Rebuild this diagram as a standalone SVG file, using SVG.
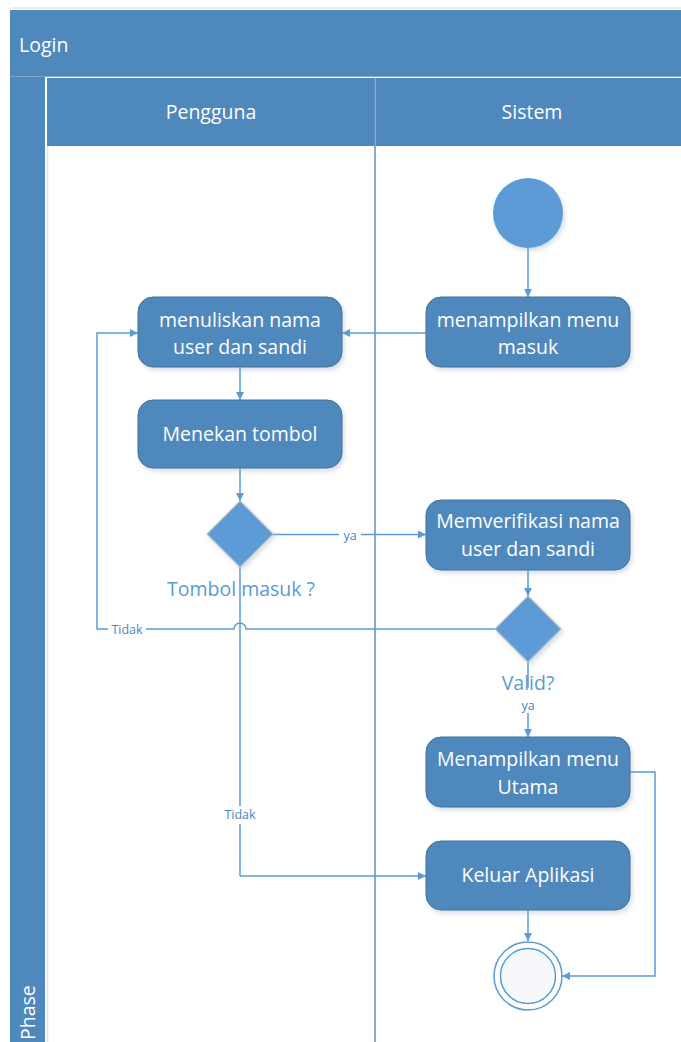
<svg xmlns="http://www.w3.org/2000/svg" width="681" height="1042" viewBox="0 0 681 1042">
  <defs>
    <style>
      .band { fill: #4f88bc; }
      .act { fill: #4f88bc; stroke: #41719c; stroke-width: 1; }
      .dec { fill: #5b9bd5; stroke: #b8bcc2; stroke-width: 1.2; }
      .lbl { font-family: "Open Sans", Lato, sans-serif; font-size: 19.5px; fill: #ffffff; text-anchor: middle; }
      .hdr { font-family: "Open Sans", Lato, sans-serif; font-size: 19.5px; fill: #ffffff; }
      .q { font-family: "Open Sans", Lato, sans-serif; font-size: 19.5px; fill: #5b9bd5; text-anchor: middle; }
      .small { font-family: "Open Sans", Lato, sans-serif; font-size: 12.5px; fill: #4a86c5; text-anchor: middle; }
      .wire { fill: none; stroke: #5b9bd5; stroke-width: 1.5; }
      .arrow { fill: none; stroke: #5b9bd5; stroke-width: 1.5; marker-end: url(#head); }
    </style>
    <marker id="head" viewBox="0 0 10 10" refX="10" refY="5" markerWidth="8" markerHeight="8" markerUnits="userSpaceOnUse" orient="auto">
      <path d="M0,0 L10,5 L0,10 z" fill="#5b9bd5"/>
    </marker>
    <filter id="shadow" x="-10%" y="-10%" width="130%" height="140%">
      <feDropShadow dx="2" dy="3" stdDeviation="2" flood-color="#8aa6c4" flood-opacity="0.35"/>
    </filter>
  </defs>

  <rect width="681" height="1042" fill="#ffffff"/>

  <!-- pool frame -->
  <g id="pool">
    <line x1="10" y1="8" x2="681" y2="8" stroke="#d5dbe2" stroke-width="1"/>
    <rect class="band" x="10" y="10" width="671" height="66"/>
    <text class="hdr" x="19" y="52">Login</text>
    <rect class="band" x="10" y="77" width="35" height="965"/>
    <line x1="10" y1="76.5" x2="681" y2="76.5" stroke="#7ea5cb" stroke-width="1"/>
    <text class="hdr" transform="translate(35 1040) rotate(-90)">Phase</text>
  </g>

  <!-- lanes -->
  <g id="lane-pengguna">
    <rect x="47" y="146" width="328" height="896" fill="#ffffff"/>
    <line x1="47.5" y1="146" x2="47.5" y2="1042" stroke="#e3e9f0" stroke-width="2"/>
    <rect class="band" x="47" y="78" width="328" height="68"/>
    <text class="hdr" x="211" y="119" text-anchor="middle">Pengguna</text>
  </g>
  <g id="lane-sistem">
    <rect class="band" x="376" y="78" width="305" height="68"/>
    <text class="hdr" x="532" y="119" text-anchor="middle">Sistem</text>
    <line x1="375" y1="78" x2="375" y2="146" stroke="#6a8fb5" stroke-width="1.5"/>
    <line x1="375" y1="146" x2="375" y2="1042" stroke="#5b8fc4" stroke-width="1.5"/>
  </g>

  <!-- connectors -->
  <g id="connectors">
    <line class="arrow" x1="528" y1="248" x2="528" y2="297"/>
    <line class="arrow" x1="426" y1="333" x2="342" y2="333"/>
    <line class="arrow" x1="240" y1="367" x2="240" y2="400"/>
    <line class="arrow" x1="240" y1="468" x2="240" y2="501"/>
    <line class="arrow" x1="272" y1="534.5" x2="426" y2="534.5"/>
    <line class="arrow" x1="528" y1="570" x2="528" y2="596"/>
    <path class="arrow" d="M528,662 V688 M528,713 V737"/>
    <line class="arrow" x1="528" y1="910" x2="528" y2="941"/>
    <path class="arrow" d="M630,772 H655 V976 H562"/>
    <!-- Tidak loop back to input, hopping over the vertical line -->
    <path class="arrow" d="M495,629 H246 A6,6 0 0 0 234,629 H97 V333 H138"/>
    <!-- Tidak path to exit -->
    <path class="wire" d="M240,567 V806 M240,824 V876"/>
    <line class="arrow" x1="240" y1="876" x2="426" y2="876"/>
    <rect x="339" y="529" width="22" height="12" fill="#ffffff"/>
    <text class="small" x="350" y="540">ya</text>
    <rect x="108" y="623" width="38" height="13" fill="#ffffff"/>
    <text class="small" x="127" y="634">Tidak</text>
    <text class="small" x="528" y="710">ya</text>
    <text class="small" x="240" y="819">Tidak</text>
  </g>

  <!-- nodes -->
  <g id="start">
    <circle cx="528" cy="213" r="35" fill="#5b9bd5" filter="url(#shadow)"/>
  </g>
  <g id="menampilkan-menu-masuk">
    <rect class="act" x="426" y="297" width="204" height="70" rx="15" filter="url(#shadow)"/>
    <text class="lbl" x="528" y="327">menampilkan menu</text>
    <text class="lbl" x="528" y="354">masuk</text>
  </g>
  <g id="menuliskan-nama">
    <rect class="act" x="138" y="297" width="204" height="70" rx="15" filter="url(#shadow)"/>
    <text class="lbl" x="240" y="327">menuliskan nama</text>
    <text class="lbl" x="240" y="354">user dan sandi</text>
  </g>
  <g id="menekan-tombol">
    <rect class="act" x="138" y="400" width="204" height="68" rx="15" filter="url(#shadow)"/>
    <text class="lbl" x="240" y="441">Menekan tombol</text>
  </g>
  <g id="tombol-masuk">
    <polygon class="dec" points="240,501 273,534 240,567 207,534" filter="url(#shadow)"/>
    <text class="q" x="241" y="596">Tombol masuk ?</text>
  </g>
  <g id="memverifikasi">
    <rect class="act" x="426" y="500" width="204" height="70" rx="15" filter="url(#shadow)"/>
    <text class="lbl" x="528" y="528">Memverifikasi nama</text>
    <text class="lbl" x="528" y="556">user dan sandi</text>
  </g>
  <g id="valid">
    <polygon class="dec" points="528,596 561,629 528,662 495,629" filter="url(#shadow)"/>
    <text class="q" x="528" y="690">Valid?</text>
  </g>
  <g id="menampilkan-menu-utama">
    <rect class="act" x="426" y="737" width="204" height="70" rx="15" filter="url(#shadow)"/>
    <text class="lbl" x="528" y="766">Menampilkan menu</text>
    <text class="lbl" x="528" y="794">Utama</text>
  </g>
  <g id="keluar-aplikasi">
    <rect class="act" x="426" y="841" width="204" height="69" rx="15" filter="url(#shadow)"/>
    <text class="lbl" x="528" y="882">Keluar Aplikasi</text>
  </g>
  <g id="end">
    <circle cx="528" cy="976" r="34" fill="#ffffff" stroke="#5b9bd5" stroke-width="1.5"/>
    <circle cx="528" cy="976" r="27.5" fill="#f7f8fb" stroke="#5b9bd5" stroke-width="1.5"/>
  </g>
</svg>
